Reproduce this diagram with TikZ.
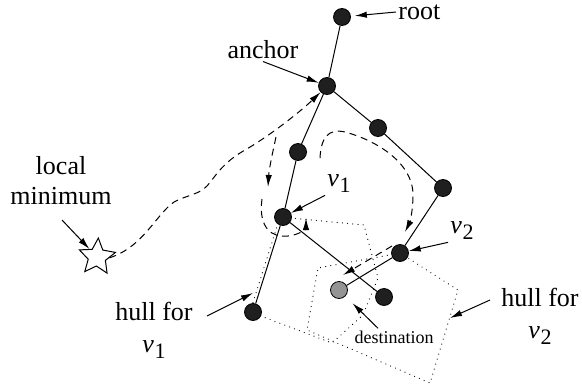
\documentclass[tikz,border=0pt]{standalone}
\usepackage{fontspec}
\setmainfont{Liberation Serif}
\usetikzlibrary{shapes.geometric,arrows.meta}
\newcommand{\vlab}[1]{\textit{v}\kern0.3pt\raisebox{-0.5ex}{\fontsize{11}{12}\selectfont #1}}

\begin{document}
\begin{tikzpicture}[x=0.5pt, y=-0.5pt,
    knoten/.style={circle, draw=black, fill=black!88, inner sep=0pt, minimum size=8.5pt},
    ziel/.style={circle, draw=black, fill=black!42, inner sep=0pt, minimum size=8.5pt},
    kante/.style={line width=0.5pt},
    zeiger/.style={-{Latex[length=6pt,width=3.2pt]}, line width=0.5pt},
    weg/.style={-{Latex[length=6pt,width=3.2pt]}, line width=0.5pt, dash pattern=on 3.5pt off 2.5pt},
    huelle/.style={line width=0.6pt, dash pattern=on 0.01pt off 2.6pt, line cap=round},
    beschr/.style={font=\fontsize{13}{15}\selectfont, inner sep=1pt}]
    \useasboundingbox (0,0) rectangle (582,391);

    % Huellen
    \draw[huelle] (280,217) -- (364,225) -- (378,278) -- (363,315) -- (332,343) -- (250,312) -- cycle;
    \draw[huelle] (400,253) -- (458,290) -- (430,383) -- (307,330) -- (318,268) -- cycle;

    % Baum
    \node[knoten] (wurzel) at (342,17) {};
    \node[knoten] (anker) at (327,86) {};
    \node[knoten] (r1) at (378,128) {};
    \node[knoten] (r2) at (443,188) {};
    \node[knoten] (v2) at (400,253) {};
    \node[ziel] (dest) at (339,290) {};
    \node[knoten] (l1) at (298,152) {};
    \node[knoten] (v1) at (283,217) {};
    \node[knoten] (blatt) at (253,312) {};
    \node[knoten] (r3) at (384,297) {};

    \draw[kante] (wurzel) -- (anker);
    \draw[kante] (anker) -- (r1) -- (r2) -- (v2) -- (dest);
    \draw[kante] (anker) -- (l1) -- (v1) -- (blatt);
    \draw[kante] (v1) -- (r3);

    % lokales Minimum
    \node[star, star points=5, star point ratio=2.1, draw, line width=0.5pt,
          minimum size=19pt, inner sep=0pt, rotate=-4] (stern) at (97,257) {};
    \node[beschr, align=center] (minL) at (61,181) {local\\minimum};
    \coordinate (minP) at (62,220);
    \draw[zeiger] (minP) -- (stern);

    % Wege
    \draw[weg] (stern.east) .. controls (140,248) and (152,222) .. (170,205)
        .. controls (180,196) and (198,196) .. (207,186)
        .. controls (215,177) and (222,163) .. (245,150)
        .. controls (268,137) and (300,112) .. (anker);
    \coordinate (w1a) at (276,137);
    \coordinate (w1b) at (268,187);
    \draw[weg] (w1a) .. controls (272,155) and (269,170) .. (w1b);
    \coordinate (w2a) at (262,199);
    \coordinate (w2b) at (306,218);
    \draw[weg] (w2a) .. controls (258,228) and (272,238) .. (288,236)
        .. controls (300,235) and (306,228) .. (w2b);
    \coordinate (w3a) at (320,158);
    \coordinate (w3b) at (405,232);
    \draw[weg] (w3a) .. controls (321,138) and (328,128) .. (345,132)
        .. controls (375,140) and (413,162) .. (413,195)
        .. controls (413,210) and (410,222) .. (w3b);
    \coordinate (w4a) at (392,246);
    \coordinate (w4b) at (343,275);
    \draw[weg] (w4a) -- (w4b);

    % Beschriftungen
    \node[beschr, anchor=west] (wurzelL) at (396,12) {root};
    \draw[zeiger, shorten >=2pt] (wurzelL.west) -- (wurzel);
    \node[beschr] (ankerL) at (263,50) {anchor};
    \draw[zeiger] (ankerL.south) -- (anker);
    \node[beschr] (v1L) at (339,184) {\vlab{1}};
    \draw[zeiger] (v1L.south west) -- (v1);
    \node[beschr] (v2L) at (462,231) {\vlab{2}};
    \draw[zeiger] (v2L.south west) -- (v2);
    \node[font=\fontsize{9}{11}\selectfont, inner sep=1pt] (zielL) at (394,337) {destination};
    \draw[zeiger, shorten >=5pt] ([xshift=-8pt]zielL.north) -- (dest);

    % Huellen beschriften
    \node[beschr, align=center, anchor=north] (h1L) at (154,300) {hull for\\[1pt]\vlab{1}};
    \coordinate (h1P) at (207,316);
    \coordinate (h1Q) at (253,293);
    \draw[zeiger] (h1P) -- (h1Q);
    \node[beschr, align=center, anchor=north] (h2L) at (540,286) {hull for\\[1pt]\vlab{2}};
    \coordinate (h2P) at (490,300);
    \coordinate (h2Q) at (450,318);
    \draw[zeiger] (h2P) -- (h2Q);
\end{tikzpicture}
\end{document}
